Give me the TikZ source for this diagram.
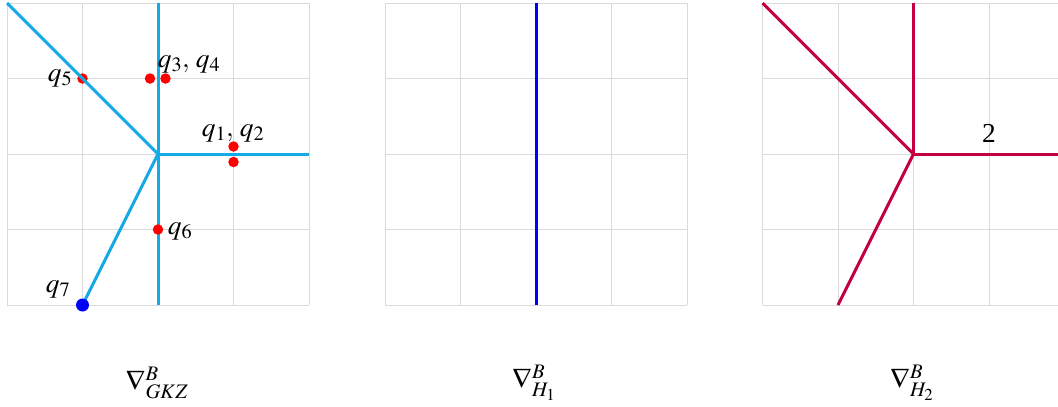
\documentclass[tikz,border=0pt]{standalone}
\usepackage{mathptmx}
\usepackage{fontspec}
\setmainfont{Liberation Serif}
\definecolor{gridgray}{RGB}{218,218,218}
\definecolor{gkzcol}{RGB}{20,170,230}
\definecolor{hone}{RGB}{0,0,255}
\definecolor{htwo}{RGB}{196,0,62}
\begin{document}
\begin{tikzpicture}[x=1bp,y=-1bp,
  gridline/.style={draw=gridgray,line width=1bp},
  gkzline/.style={draw=gkzcol,line width=3bp},
  honeline/.style={draw=hone,line width=3bp},
  htwoline/.style={draw=htwo,line width=3bp},
  reddot/.style={circle,fill=red,inner sep=0pt,minimum size=10.5bp},
  bluedot/.style={circle,fill=blue,inner sep=0pt,minimum size=13bp},
  lbl/.style={inner sep=0pt,font=\fontsize{27.5}{30}\selectfont},
  captionlbl/.style={inner sep=0pt,font=\fontsize{28}{30}\selectfont}]
\useasboundingbox (0,0) rectangle (1058,406);
% grids
\foreach \ox in {0,378,755.5}{
  \foreach \i in {0,1,2,3,4}{
    \draw[gridline] ({\ox+7+75.5*\i},3) -- ({\ox+7+75.5*\i},305);
    \draw[gridline] ({\ox+7},{3+75.5*\i}) -- ({\ox+309},{3+75.5*\i});
  }
}
% panel 1
\coordinate (c1) at (158,154);
\coordinate (t1) at (158,3);
\coordinate (b1) at (158,305);
\coordinate (r1) at (309,154);
\coordinate (ul1) at (7,3);
\node[reddot] (q5) at (82.5,78.5) {};
\node[reddot] (q3) at (150,78.5) {};
\node[reddot] (q4) at (165.5,78.5) {};
\node[reddot] (q1) at (233.5,146.5) {};
\node[reddot] (q2) at (233.5,162) {};
\draw[gkzline] (t1) -- (b1);
\draw[gkzline] (c1) -- (r1);
\draw[gkzline] (c1) -- (ul1);
\coordinate (q7c) at (82.5,305);
\draw[gkzline] (c1) -- (q7c);
\node[reddot] (q6) at (158,229.5) {};
\node[bluedot] (q7) at (q7c) {};
\node[lbl] (lq5) at (60,78) {$q_5$};
\node[lbl] (lq34) at (189,64) {$q_3,\, q_4$};
\node[lbl] (lq12) at (233,133) {$q_1,\, q_2$};
\node[lbl] (lq6) at (180,231) {$q_6$};
\node[lbl] (lq7) at (58,289) {$q_7$};
\node[captionlbl] (cap1) at (157,383) {$\nabla^{B}_{GKZ}$};
% panel 2
\coordinate (t2) at (536,3);
\coordinate (b2) at (536,305);
\draw[honeline] (t2) -- (b2);
\node[captionlbl] (cap2) at (534,383) {$\nabla^{B}_{H_1}$};
% panel 3
\coordinate (c3) at (913.5,154);
\coordinate (t3) at (913.5,3);
\coordinate (r3) at (1064.5,154);
\coordinate (ul3) at (762.5,3);
\coordinate (bl3) at (838,305);
\draw[htwoline] (c3) -- (t3);
\draw[htwoline] (c3) -- (r3);
\draw[htwoline] (c3) -- (ul3);
\draw[htwoline] (c3) -- (bl3);
\node[lbl] (two) at (989,133) {2};
\node[captionlbl] (cap3) at (912,383) {$\nabla^{B}_{H_2}$};
\end{tikzpicture}
\end{document}
